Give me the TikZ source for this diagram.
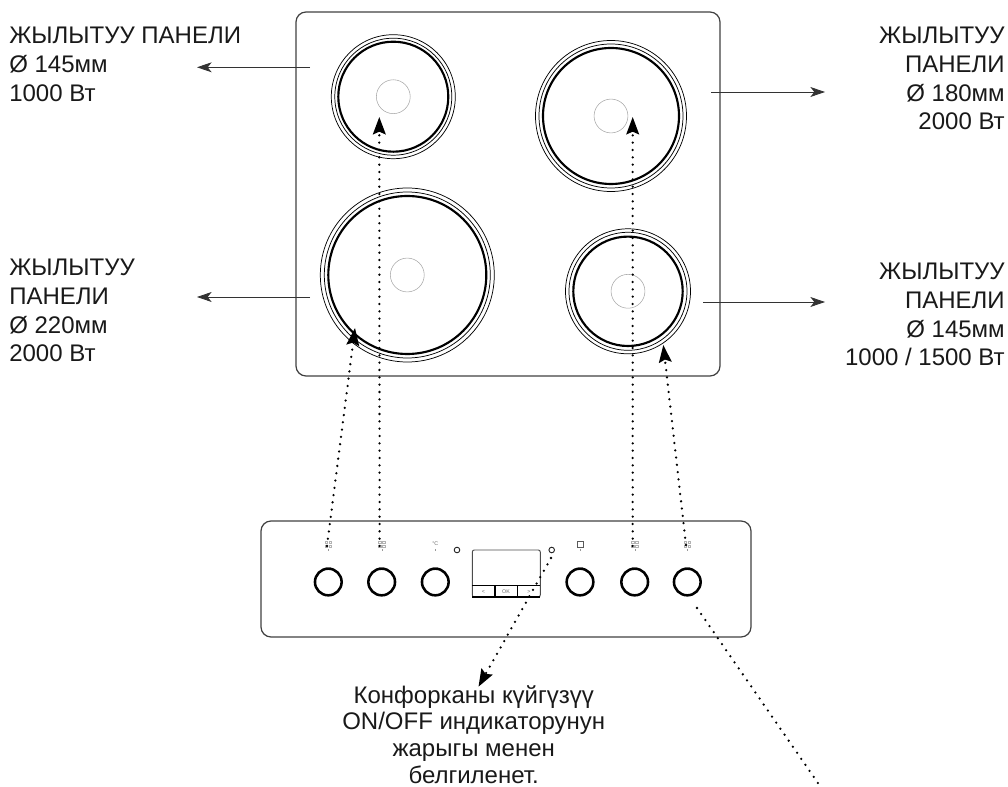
\documentclass[tikz,border=0pt]{standalone}
\usepackage{fontspec}
\setmainfont{Liberation Sans}
\usetikzlibrary{arrows.meta}
\tikzset{
  x=0.75pt,y=-0.75pt,
  hob/.style={draw=black!75,line width=0.9pt,rounded corners=7.5pt},
  ringthin/.style={draw=black,line width=0.55pt},
  ringthick/.style={draw=black,line width=1.6pt},
  ringcore/.style={draw=black!35,line width=0.4pt},
  knob/.style={circle,draw=black,line width=1.9pt,minimum size=20pt,inner sep=0pt},
  lamp/.style={circle,draw=black!85,line width=0.7pt,minimum size=4.2pt,inner sep=0pt},
  leader/.style={draw=black!80,line width=0.6pt,-{Stealth[length=11pt,width=7.5pt,inset=3pt]}},
  dots/.style={draw=black,line width=1.9pt,line cap=round,dash pattern=on 0pt off 5.5pt},
  pointer/.style={dots,-{Stealth[length=13pt,width=9.5pt,inset=2pt,line cap=butt]}},
  lbl/.style={font=\fontsize{18pt}{21.5pt}\selectfont,inner sep=0pt,text=black!90},
  lblb/.style={font=\fontsize{18pt}{20pt}\selectfont,inner sep=0pt,text=black!90},
  tiny/.style={font=\fontsize{4pt}{4.5pt}\selectfont,inner sep=0pt,text=black!60},
}
\begin{document}
\begin{tikzpicture}
\useasboundingbox (0,0) rectangle (1008,787);
% hob
\draw[hob] (296,12) rectangle (720,376);
\foreach \n/\cx/\cy/\ra/\rb/\rc in {tl/393.3/96.7/62/58.5/55, tr/611/116/75.5/72/68, bl/407.3/275/87/83/79, br/628/291.3/62.5/59/54.7}{
  \coordinate (\n) at (\cx,\cy);
  \draw[ringthin] (\n) circle[radius=\ra*0.75pt];
  \draw[ringthin] (\n) circle[radius=\rb*0.75pt];
  \draw[ringthick] (\n) circle[radius=\rc*0.75pt];
  \draw[ringcore] (\n) circle[radius=12.7pt];
}
% control panel
\draw[hob] (261,521) rectangle (751,637);
\foreach \n/\kx in {ka/328.3,kb/381.7,kc/435.3,kd/580,ke/634.7,kf/687.3}{
  \node[knob] (\n) at (\kx,582) {};
  \draw[black!60,line width=0.8pt] (\kx-2.5,567.3) -- (\kx+2.5,567.3);
  \draw[black!40,line width=0.3pt] (\kx,549.5) -- (\kx,551.5);
}
\foreach \n/\kx in {ia/328.3,ib/381.7,ie/634.7,if/687.3}{
  \node[tiny] (\n) at (\kx,544) {\tikz[x=0.75pt,y=-0.75pt]{\foreach \a/\b in {0/0,4/0,0/4,4/4}{\draw[black!30,line width=0.3pt] (\a,\b) rectangle (\a+2.5,\b+2.5);}}};
}
\node[tiny] (ic) at (435.3,544) {°C};
\draw[black!65,line width=0.45pt] (577,541.5) rectangle (583.5,547);
\node[lamp] (la) at (457,550) {};
\node[lamp] (lb) at (551.7,550) {};
% display
\draw[draw=black!70,line width=0.7pt,rounded corners=1.5pt] (472.3,550) rectangle (540.3,597);
\draw[black,line width=0.9pt] (472.3,585.7) -- (540.3,585.7);
\draw[black,line width=0.9pt] (472.3,597) -- (540.3,597);
\draw[black,line width=0.9pt] (495,585.7) -- (495,597);
\draw[black,line width=0.9pt] (517.5,585.7) -- (517.5,597);
\node[tiny] (bl) at (483.5,591.5) {<};
\node[tiny] (bo) at (506,591.5) {OK};
\node[tiny] (br) at (529,591.5) {>};
% leaders
\coordinate (a1) at (310,67.3);  \coordinate (a2) at (197,67.3);
\coordinate (b1) at (310,297);   \coordinate (b2) at (197,297);
\coordinate (c1) at (711,92);    \coordinate (c2) at (825,92);
\coordinate (d1) at (703,302);   \coordinate (d2) at (825,302);
\draw[leader] (a1) -- (a2);
\draw[leader] (b1) -- (b2);
\draw[leader] (c1) -- (c2);
\draw[leader] (d1) -- (d2);
% dotted pointers
\coordinate (p1) at (327,546); \coordinate (q1) at (355,328);
\coordinate (p2) at (379.6,546); \coordinate (q2) at (379.3,117);
\coordinate (p3) at (632.7,546); \coordinate (q3) at (632.7,117);
\coordinate (p4) at (686,545); \coordinate (q4) at (663.3,345);
\coordinate (p5) at (551,558); \coordinate (q5) at (478.5,686.7);
\coordinate (p6) at (697,608); \coordinate (q6) at (820,786);
\draw[pointer] (p1) -- (q1);
\draw[pointer] (p2) -- (q2);
\draw[pointer] (p3) -- (q3);
\draw[pointer] (p4) -- (q4);
\draw[pointer] (p5) -- (q5);
\draw[dots] (p6) -- (q6);
% labels
\node[lbl,anchor=north west,align=left] (t1) at (9,27) {ЖЫЛЫТУУ ПАНЕЛИ\\Ø 145мм\\1000 Вт};
\node[lbl,anchor=north west,align=left] (t2) at (9,259) {ЖЫЛЫТУУ\\ПАНЕЛИ\\Ø 220мм\\2000 Вт};
\node[lbl,anchor=north east,align=right] (t3) at (1005,27) {ЖЫЛЫТУУ\\ПАНЕЛИ\\Ø 180мм\\2000 Вт};
\node[lbl,anchor=north east,align=right] (t4) at (1005,263) {ЖЫЛЫТУУ\\ПАНЕЛИ\\Ø 145мм\\1000 / 1500 Вт};
\node[lblb,anchor=north,align=center] (t5) at (473.7,685) {Конфорканы күйгүзүү\\ON/OFF индикаторунун\\жарыгы менен\\белгиленет.};
\end{tikzpicture}
\end{document}
